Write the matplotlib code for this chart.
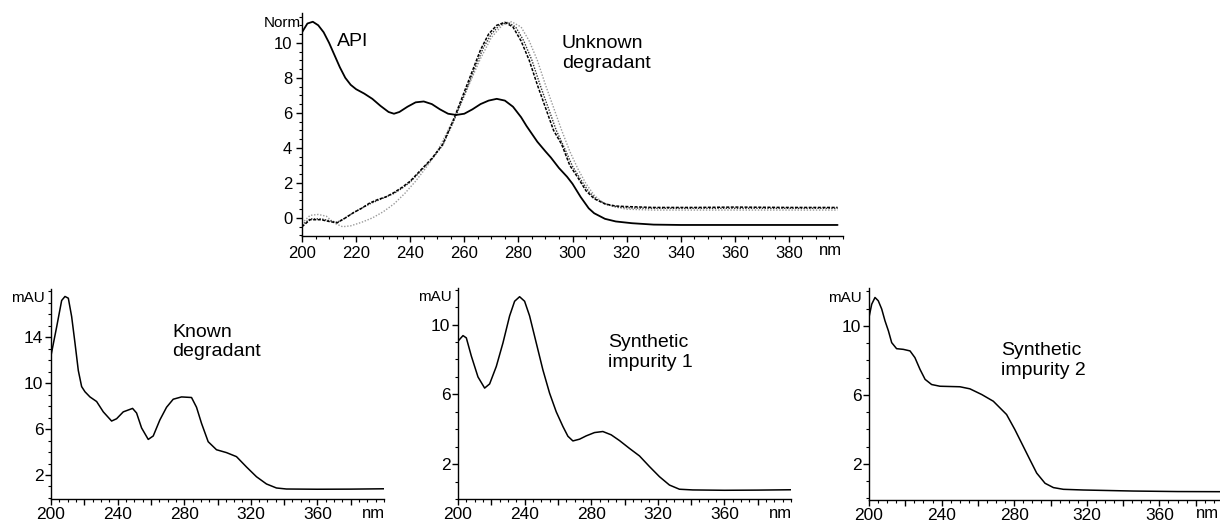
import matplotlib
matplotlib.use("Agg")
import matplotlib.pyplot as plt
from matplotlib.ticker import MultipleLocator, FixedLocator, FuncFormatter

plt.rcParams["font.family"] = ["Liberation Sans", "DejaVu Sans"]

W, H = 1220, 524

# ---- top panel: API and unknown degradant (normalised) ----
api_wl = [200, 202, 204, 206, 208, 210, 212, 214, 216, 218, 220, 223, 226, 229,
          232, 234, 236, 239, 242, 245, 248, 251, 254, 257, 260, 263, 266, 269,
          272, 275, 278, 281, 283, 287, 290, 292, 295, 298, 300, 303, 306, 308,
          312, 316, 322, 330, 340, 360, 380, 398]
api_val = [10.6, 11.1, 11.2, 11.0, 10.6, 10.0, 9.3, 8.6, 8.0, 7.6, 7.35, 7.1, 6.8,
           6.4, 6.05, 5.95, 6.05, 6.35, 6.6, 6.65, 6.5, 6.2, 5.95, 5.88, 5.95, 6.2,
           6.5, 6.7, 6.8, 6.7, 6.35, 5.75, 5.25, 4.35, 3.8, 3.45, 2.85, 2.35, 1.95,
           1.2, 0.55, 0.27, -0.05, -0.2, -0.3, -0.38, -0.4, -0.4, -0.4, -0.4]

unk1_wl = [200, 203, 207, 210, 213, 216, 219, 222, 225, 228, 231, 234, 237, 240,
           244, 248, 252, 256, 260, 263, 266, 269, 272, 275, 278, 281, 284, 287,
           290, 293, 296, 299, 302, 305, 308, 312, 316, 320, 330, 345, 360, 380,
           398]
unk1_val = [-0.5, -0.1, -0.1, -0.2, -0.28, 0.0, 0.3, 0.55, 0.85, 1.05, 1.2, 1.45,
            1.75, 2.1, 2.75, 3.4, 4.2, 5.6, 7.2, 8.4, 9.6, 10.5, 11.0, 11.17, 10.9,
            10.1, 9.0, 7.6, 6.3, 5.0, 4.2, 3.0, 2.3, 1.55, 1.1, 0.8, 0.68, 0.65,
            0.6, 0.6, 0.62, 0.6, 0.6]

unk2_wl = [200, 203, 207, 210, 213, 216, 219, 222, 225, 228, 231, 234, 237, 240,
           244, 248, 252, 256, 260, 264, 267, 270, 273, 276, 279, 282, 285, 288,
           291, 294, 297, 300, 303, 306, 309, 313, 317, 322, 330, 345, 360, 380,
           398]
unk2_val = [-0.4, -0.05, -0.05, -0.15, -0.25, 0.0, 0.3, 0.55, 0.8, 1.0, 1.2, 1.4,
            1.7, 2.05, 2.7, 3.35, 4.15, 5.5, 7.0, 8.6, 9.7, 10.5, 11.0, 11.17, 10.9,
            10.1, 9.0, 7.6, 6.3, 5.0, 4.0, 2.95, 2.2, 1.5, 1.05, 0.75, 0.62, 0.57,
            0.55, 0.55, 0.55, 0.55, 0.55]

unk3_wl = [200, 203, 206, 209, 212, 215, 218, 222, 226, 230, 234, 238, 242, 246,
           250, 254, 258, 262, 266, 270, 274, 277.5, 281, 284, 287, 290, 293, 296,
           299, 302, 305, 308, 311, 315, 320, 330, 345, 360, 380, 398]
unk3_val = [-0.3, 0.15, 0.2, 0.1, -0.3, -0.5, -0.45, -0.25, 0.0, 0.35, 0.8, 1.4,
            2.1, 2.9, 3.8, 5.0, 6.3, 7.7, 9.1, 10.3, 11.0, 11.2, 10.9, 10.1, 9.0,
            7.6, 6.3, 5.0, 3.8, 2.8, 1.95, 1.3, 0.9, 0.65, 0.5, 0.45, 0.45, 0.45,
            0.45, 0.45]

# ---- bottom panels (mAU) ----
known_wl = [200, 203.4, 206.4, 208.4, 210.4, 212.4, 214.4, 216.4, 218.4, 220.4,
            223.4, 227.4, 231.4, 236.4, 239.4, 243.4, 249, 251.4, 254.4, 258.4,
            261.4, 265.4, 269.4, 273.4, 278.4, 284.4, 287.4, 290.4, 294.4, 299.4,
            305.4, 311.4, 317.4, 323.4, 329.4, 335.4, 341.4, 360, 380, 400]
known_val = [12.4, 14.9, 17.2, 17.55, 17.4, 15.8, 13.5, 11.1, 9.7, 9.25,
             8.8, 8.4, 7.5, 6.7, 6.9, 7.5, 7.8, 7.4, 6.1, 5.1,
             5.4, 6.8, 7.9, 8.6, 8.8, 8.75, 7.9, 6.5, 4.9, 4.2,
             3.95, 3.6, 2.7, 1.85, 1.22, 0.87, 0.78, 0.76, 0.77, 0.8]

imp1_wl = [200, 203, 205, 208, 212, 216, 219, 223, 227, 231, 234, 237, 240, 243,
           247, 251, 255, 259, 263, 266, 269, 273, 277, 282, 287, 292, 297, 303,
           309, 315, 321, 327, 333, 341, 360, 380, 400]
imp1_val = [9.05, 9.37, 9.24, 8.2, 7.0, 6.36, 6.6, 7.6, 8.95, 10.5, 11.34, 11.6,
            11.34, 10.5, 8.95, 7.4, 6.07, 5.0, 4.16, 3.6, 3.33, 3.43, 3.62, 3.81,
            3.87, 3.68, 3.35, 2.9, 2.47, 1.86, 1.28, 0.8, 0.56, 0.52, 0.5, 0.51,
            0.53]

imp2_wl = [200, 201.5, 203.3, 205.1, 207, 208.8, 210.7, 212.5, 215.2, 218.9,
           222.6, 225.3, 228.1, 230.9, 234.5, 239.1, 250.1, 255.6, 262.1, 268.5,
           275.8, 280.4, 285, 288.7, 292.4, 297, 301.6, 307.1, 318.1, 345.6,
           370, 400]
imp2_val = [10.5, 11.26, 11.65, 11.46, 10.98, 10.3, 9.71, 9.03, 8.68, 8.64,
            8.55, 8.16, 7.48, 6.9, 6.6, 6.5, 6.47, 6.35, 6.02, 5.63,
            4.86, 3.98, 3.01, 2.23, 1.46, 0.87, 0.62, 0.52, 0.48, 0.42,
            0.39, 0.38]


def make_axes(left, right, bottom, top):
    # pixel box -> figure fraction
    return fig.add_axes([left / W, 1 - bottom / H, (right - left) / W, (bottom - top) / H])


def style(ax, labelsize, pad):
    for s in ("top", "right"):
        ax.spines[s].set_visible(False)
    for s in ("left", "bottom"):
        ax.spines[s].set_linewidth(1.0)
    ax.tick_params(which="major", direction="out", length=4, width=1.0,
                   labelsize=labelsize, pad=pad)
    ax.tick_params(which="minor", direction="out", length=2, width=0.8)
    ax.set_xlim(200, 400)


fig = plt.figure(figsize=(W / 100, H / 100), dpi=100)
line_kw = dict(solid_joinstyle="round", solid_capstyle="round")

# top panel
ax = make_axes(302, 843, 236, 13)
style(ax, 12, 3)
ax.plot(unk3_wl, unk3_val, color="#9a9a9a", lw=1.0, linestyle=(0, (1, 1.2)))
ax.plot(unk2_wl, unk2_val, color="#333333", lw=1.0, linestyle=(0, (1, 1)))
ax.plot(unk1_wl, unk1_val, color="black", lw=1.1, linestyle=(0, (2, 1)))
ax.plot(api_wl, api_val, color="black", lw=1.3, **line_kw)
ax.set_ylim(-1.03, 11.7)
ax.xaxis.set_major_locator(FixedLocator(range(200, 400, 20)))
ax.xaxis.set_minor_locator(MultipleLocator(5))
ax.yaxis.set_major_locator(FixedLocator([0, 2, 4, 6, 8, 10]))
ax.yaxis.set_minor_locator(MultipleLocator(0.5))
ax.text(395.5, -0.065, "nm", transform=ax.get_xaxis_transform(), ha="center",
        va="center", fontsize=12)
ax.text(-0.002, 0.955, "Norm", transform=ax.transAxes, ha="right", va="center",
        fontsize=11)
ax.text(213, 10.05, "API", fontsize=14, va="center")
ax.text(296, 9.4, "Unknown\ndegradant", fontsize=14, va="center",
        linespacing=1.2)

# bottom panels
panels = [
    (51, 384, 499, 289, (-0.09, 18.2), [2, 6, 10, 14], known_wl, known_val,
     "Known\ndegradant", (273, 13.6)),
    (458, 791, 499, 288, (0.0, 12.1), [2, 6, 10], imp1_wl, imp1_val,
     "Synthetic\nimpurity 1", (290, 8.4)),
    (869, 1232, 500, 288, (-0.1, 12.2), [2, 6, 10], imp2_wl, imp2_val,
     "Synthetic\nimpurity 2", (273, 8.0)),
]
nm_px = [373, 780, 1219]
for (left, right, bottom, top, ylim, yticks, wl, val, label, pos), nx in zip(panels, nm_px):
    ax = make_axes(left, right, bottom, top)
    style(ax, 12.5, 1.5)
    ax.plot(wl, val, color="black", lw=1.1, **line_kw)
    ax.set_ylim(*ylim)
    ax.xaxis.set_major_locator(FixedLocator(range(200, 400, 20)))
    ax.xaxis.set_major_formatter(FuncFormatter(lambda v, p: f"{v:.0f}" if v % 40 == 0 else ""))
    ax.xaxis.set_minor_locator(MultipleLocator(5))
    ax.yaxis.set_major_locator(FixedLocator(yticks))
    ax.yaxis.set_minor_locator(MultipleLocator(1))
    ha = "right" if nx > 1200 else "center"
    fig.text(nx / W, 1 - 513 / H, "nm", ha=ha, va="center", fontsize=12)
    ax.text(-0.02, 0.955, "mAU", transform=ax.transAxes, ha="right",
            va="center", fontsize=11)
    ax.text(pos[0], pos[1], label, fontsize=14, va="center", linespacing=1.2)

fig.savefig("out.png", dpi=100)
